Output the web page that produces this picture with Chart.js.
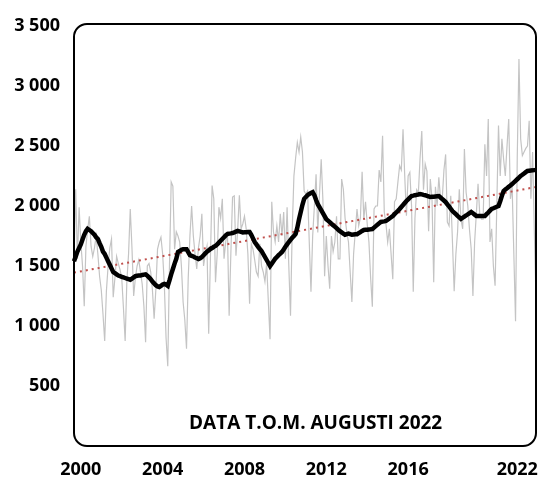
<!DOCTYPE html>
<html>
<head>
<meta charset="utf-8">
<script src="https://cdn.jsdelivr.net/npm/chart.js@4/dist/chart.umd.min.js"></script>
<style>
  html, body { margin: 0; padding: 0; background: #fff; }
  #wrap { width: 538px; height: 487px; }
</style>
</head>
<body>
<div id="wrap"><canvas id="myChart" width="538" height="487"></canvas></div>
<script>
// month by month, jan 2000 - aug 2022
var startYear = 2000;

var monthly = [
  1550, 2140, 1560, 1990, 1700, 1500, 1165, 1665, 1800, 1915, 1665, 1580,
  1650, 1750, 1600, 1415, 1300, 1100, 875, 1290, 1500, 1650, 1725, 1240,
  1400, 1580, 1520, 1470, 1400, 1150, 875, 1370, 1600, 1975, 1650, 1250,
  1400, 1500, 1550, 1450, 1350, 1165, 865, 1500, 1520, 1450, 1300, 1060,
  1300, 1640, 1700, 1740, 1600, 1340, 900, 665, 1500, 2200, 2165, 1640,
  1785, 1750, 1700, 1500, 1200, 1050, 810, 1400, 1750, 2000, 1750, 1600,
  1475, 1650, 1750, 1935, 1500, 1600, 1665, 935, 1550, 2170, 2060, 1365,
  1600, 1990, 1900, 2060, 1560, 1700, 1790, 1085, 1600, 2075, 2085, 1585,
  1800, 2090, 1810, 1850, 1915, 1810, 1600, 1185, 1685, 1640, 1550, 1450,
  1415, 1685, 1500, 1450, 1370, 1520, 1200, 890, 2035, 1785, 1700, 1835,
  1700, 1935, 1750, 1950, 1560, 1990, 1500, 1085, 1800, 2250, 2400, 2530,
  2450, 2575, 2450, 2125, 2100, 2125, 1700, 1285, 1750, 2000, 2265, 1780,
  2100, 2390, 2050, 1415, 1750, 1500, 1310, 1750, 1620, 1700, 1915, 1560,
  1560, 2225, 2140, 1900, 1785, 1700, 1450, 1200, 1600, 1785, 1975, 1835,
  1900, 2285, 1890, 2035, 1850, 1700, 1400, 1160, 1975, 2000, 2000, 2300,
  2200, 2585, 1950, 1850, 1700, 1810, 1600, 1390, 2035, 2060, 2200, 2335,
  2300, 2640, 2250, 1920, 2250, 2280, 2000, 1285, 1900, 2135, 2110, 2400,
  2625, 2135, 2350, 2290, 1790, 2225, 2060, 1365, 2160, 2000, 2240, 2060,
  2060, 2300, 2430, 1865, 1835, 2085, 1700, 1290, 1600, 1785, 2140, 1890,
  1810, 2475, 2115, 2000, 1800, 1640, 1250, 1700, 1935, 2185, 1935, 1890,
  1890, 2515, 2250, 2725, 1700, 1810, 1500, 1335, 2000, 2670, 2250, 2560,
  2390, 2250, 2500, 2725, 2060, 2160, 1600, 1040, 2400, 3225, 2560, 2420,
  2450, 2480, 2500, 2710, 2060, 2450, 1800, 1225
];

// 12 month moving average (black line)
var average = [
  1540, 1580, 1620, 1650, 1680, 1720, 1760, 1790, 1810, 1800, 1790, 1775,
  1760, 1740, 1725, 1690, 1660, 1620, 1600, 1570, 1540, 1510, 1480, 1450,
  1440, 1430, 1420, 1415, 1410, 1405, 1400, 1395, 1390, 1385, 1395, 1405,
  1415, 1418, 1420, 1420, 1425, 1428, 1430, 1420, 1405, 1390, 1370, 1355,
  1340, 1330, 1325, 1335, 1345, 1350, 1345, 1335, 1380, 1430, 1475, 1520,
  1560, 1617, 1625, 1635, 1640, 1640, 1640, 1615, 1590, 1585, 1580, 1570,
  1565, 1558, 1565, 1575, 1590, 1605, 1620, 1630, 1642, 1650, 1660, 1667,
  1680, 1695, 1710, 1725, 1740, 1755, 1767, 1770, 1772, 1775, 1780, 1786,
  1792, 1788, 1784, 1780, 1781, 1782, 1783, 1783, 1760, 1730, 1700, 1680,
  1660, 1642, 1625, 1600, 1575, 1550, 1525, 1500, 1520, 1540, 1560, 1575,
  1590, 1603, 1617, 1638, 1660, 1680, 1700, 1718, 1735, 1750, 1767, 1820,
  1890, 1950, 2010, 2060, 2075, 2090, 2100, 2108, 2115, 2090, 2050, 2015,
  1990, 1965, 1940, 1915, 1890, 1878, 1865, 1852, 1840, 1828, 1815, 1802,
  1790, 1780, 1770, 1760, 1765, 1770, 1765, 1760, 1762, 1764, 1765, 1774,
  1783, 1792, 1800, 1802, 1803, 1805, 1806, 1808, 1820, 1832, 1845, 1856,
  1867, 1870, 1872, 1875, 1885, 1896, 1906, 1917, 1932, 1946, 1960, 1975,
  1992, 2008, 2025, 2042, 2056, 2070, 2083, 2086, 2090, 2093, 2096, 2100,
  2097, 2093, 2090, 2085, 2080, 2075, 2077, 2078, 2080, 2082, 2083, 2071,
  2058, 2046, 2033, 2014, 1996, 1977, 1958, 1945, 1932, 1918, 1905, 1892,
  1902, 1912, 1921, 1931, 1940, 1950, 1939, 1928, 1917, 1917, 1917, 1917,
  1917, 1917, 1932, 1946, 1961, 1975, 1981, 1988, 1994, 2000, 2040, 2085,
  2125, 2137, 2148, 2160, 2171, 2183, 2196, 2210, 2223, 2236, 2250, 2260,
  2271, 2282, 2292, 2294, 2296, 2297, 2299, 2300
];

// linear trend, first and last month
var trendStart = 1445;
var trendEnd = 2158;

var xTickLabels = ['2000', '2004', '2008', '2012', '2016', '2022'];
var xTickMonths = [4, 52, 100, 148, 196, 260];

var yTicks = [500, 1000, 1500, 2000, 2500, 3000, 3500];

var noteText = 'DATA T.O.M. AUGUSTI 2022';

var fontFamily = "'Open Sans', 'Noto Sans', sans-serif";

function buildLabels() {
  var labels = [];
  for (var i = 0; i < monthly.length; i++) {
    var y = startYear + Math.floor(i / 12);
    var m = (i % 12) + 1;
    labels.push(y + '-' + (m < 10 ? '0' + m : m));
  }
  return labels;
}

function buildTrend() {
  var t = monthly.map(function() { return null; });
  t[0] = trendStart;
  t[t.length - 1] = trendEnd;
  return t;
}

function fmt(v) {
  return String(v).replace(/\B(?=(\d{3})+(?!\d))/g, ' ');
}

var frame = {
  id: 'frame',
  afterDatasetsDraw: function(chart) {
    var a = chart.chartArea;
    var c = chart.ctx;
    c.save();
    c.strokeStyle = '#000';
    c.lineWidth = 2;
    c.beginPath();
    c.roundRect(a.left, a.top - 2, a.right - a.left, a.bottom - a.top + 2, 13);
    c.stroke();

    c.fillStyle = '#000';
    c.font = 'bold 19px ' + fontFamily;
    c.textAlign = 'center';
    c.textBaseline = 'middle';
    c.fillText(noteText, a.left + (a.right - a.left) * 0.523, a.bottom - 22);
    c.restore();
  }
};

function init() {
  var ctx = document.getElementById('myChart').getContext('2d');
  var chart = new Chart(ctx, {
    type: 'line',
    data: {
      labels: buildLabels(),
      datasets: [{
        label: 'Glidande medel',
        data: average,
        borderColor: '#000',
        borderWidth: 4.5,
        pointRadius: 0,
        order: 0
      }, {
        label: 'Trend',
        data: buildTrend(),
        borderColor: '#C0504D',
        borderWidth: 2,
        borderDash: [2, 4],
        pointRadius: 0,
        spanGaps: true,
        order: 1
      }, {
        label: 'Per månad',
        data: monthly,
        borderColor: '#C4C4C4',
        borderWidth: 1.2,
        pointRadius: 0,
        order: 2
      }]
    },
    options: {
      responsive: false,
      animation: false,
      layout: { padding: { top: 26, right: 2, left: 0, bottom: 0 } },
      plugins: { legend: { display: false }, tooltip: { enabled: false } },
      scales: {
        x: {
          grid: { display: false, drawTicks: false },
          border: { display: false },
          afterBuildTicks: function(scale) {
            scale.ticks = xTickMonths.map(function(v) { return { value: v }; });
          },
          afterFit: function(scale) {
            scale.height = 41;
            scale.paddingLeft = 0;
            scale.paddingRight = 0;
          },
          ticks: {
            autoSkip: false,
            maxRotation: 0,
            padding: 13,
            color: '#000',
            font: { family: fontFamily, weight: 'bold', size: 18 },
            callback: function(value) {
              var k = xTickMonths.indexOf(value);
              return k >= 0 ? xTickLabels[k] : '';
            }
          }
        },
        y: {
          min: 0,
          max: 3500,
          grid: { display: false, drawTicks: false },
          border: { display: false },
          afterBuildTicks: function(scale) {
            scale.ticks = yTicks.map(function(v) { return { value: v }; });
          },
          afterFit: function(scale) {
            scale.width = 74;
            scale.paddingTop = 0;
            scale.paddingBottom = 0;
          },
          ticks: {
            padding: 14,
            color: '#000',
            font: { family: fontFamily, weight: 'bold', size: 18 },
            callback: function(value) { return fmt(value); }
          }
        }
      }
    },
    plugins: [frame]
  });
}

init();
</script>
</body>
</html>
